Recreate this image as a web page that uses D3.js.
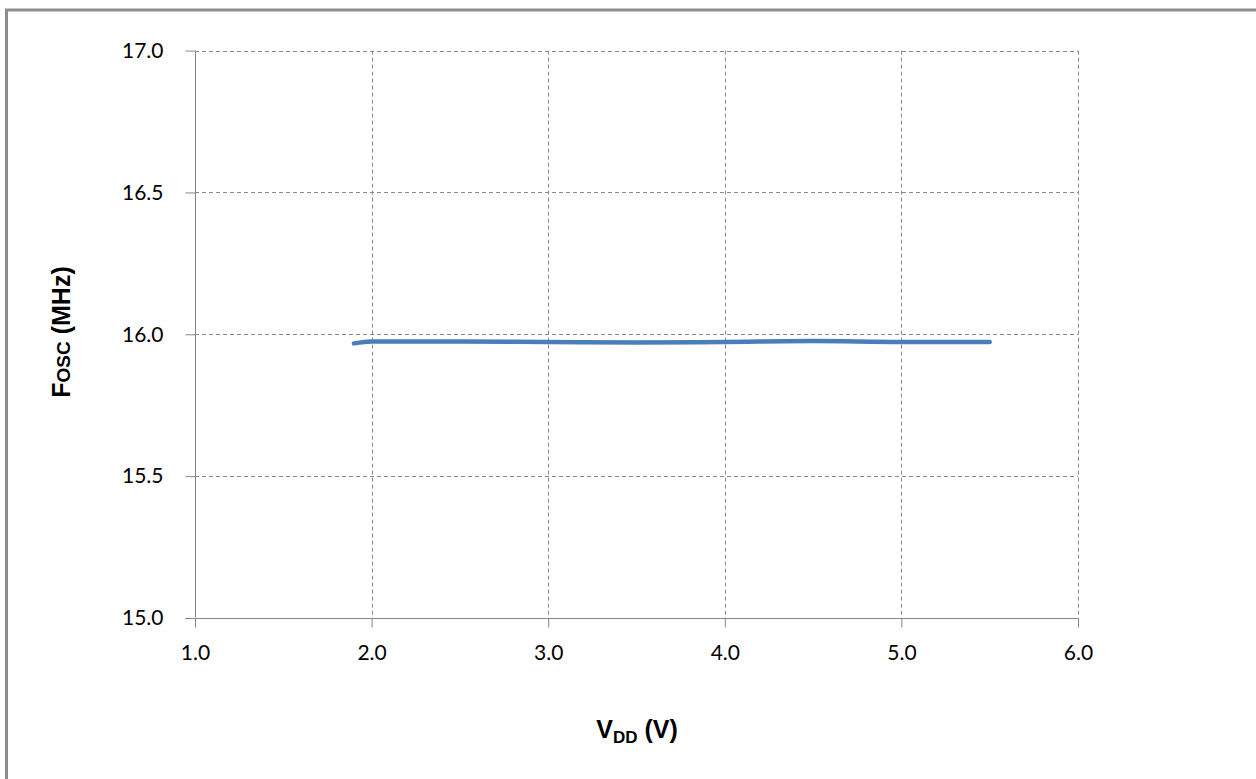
<!DOCTYPE html>
<html>
<head>
<meta charset="utf-8">
<script src="https://cdn.jsdelivr.net/npm/d3@7"></script>
<style>
  html, body { margin: 0; padding: 0; background: #fff; }
  svg { display: block; }
</style>
</head>
<body>
<svg id="chart" width="1256" height="779"></svg>
<script>
// ---- data ----
const vdd  = [1.9, 2.0, 2.5, 3.0, 3.5, 4.0, 4.5, 5.0, 5.5];
const fosc = [15.968, 15.975, 15.975, 15.973, 15.971, 15.973, 15.976, 15.973, 15.973];
const xTicks = [1.0, 2.0, 3.0, 4.0, 5.0, 6.0];
const yTicks = [15.0, 15.5, 16.0, 16.5, 17.0];

(function () {
const svg = d3.select("#chart");
const pLeft = 195, pRight = 1078, pTop = 50.6, pBottom = 618;

const x = d3.scaleLinear().domain([1, 6]).range([pLeft, pRight]);
const y = d3.scaleLinear().domain([15, 17]).range([pBottom, pTop]);

// outer border (only left and top visible; rest clipped)
svg.append("rect")
  .attr("x", 6.5).attr("y", 10)
  .attr("width", 1300).attr("height", 900)
  .attr("fill", "none").attr("stroke", "#8c8c8c").attr("stroke-width", 3);

// gridlines
const grid = svg.append("g");
grid.selectAll("line.h").data(yTicks.filter(d => d !== 15)).enter().append("line")
  .attr("x1", pLeft).attr("x2", pRight)
  .attr("y1", d => Math.round(y(d)) + 0.5).attr("y2", d => Math.round(y(d)) + 0.5)
  .attr("stroke", "#8a8a8a").attr("stroke-width", 1).attr("stroke-dasharray", "4,3");
grid.selectAll("line.v").data(xTicks.filter(d => d !== 1)).enter().append("line")
  .attr("y1", pTop).attr("y2", pBottom)
  .attr("x1", d => Math.round(x(d)) + 0.5).attr("x2", d => Math.round(x(d)) + 0.5)
  .attr("stroke", "#8a8a8a").attr("stroke-width", 1).attr("stroke-dasharray", "4,3");

// axes
const fontFam = "Lato, 'Open Sans', 'Liberation Sans', sans-serif";
const yAxis = svg.append("g").attr("transform", `translate(${Math.round(pLeft) + 0.5},0)`)
  .call(d3.axisLeft(y).tickValues(yTicks).tickFormat(d3.format(".1f")).tickSize(10).tickPadding(22));
const xAxis = svg.append("g").attr("transform", `translate(0,${Math.round(pBottom) + 0.5})`)
  .call(d3.axisBottom(x).tickValues(xTicks).tickFormat(d3.format(".1f")).tickSize(9).tickPadding(18));
[yAxis, xAxis].forEach(a => {
  a.select(".domain").attr("stroke", "#868686").attr("stroke-width", 1);
  a.selectAll(".tick line").attr("stroke", "#868686");
  a.selectAll(".tick text").attr("fill", "#000").style("font-family", fontFam).style("font-size", "21px");
});
xAxis.select(".domain").attr("d", `M${pLeft - 10},0H${pRight}`);
yAxis.select(".domain").attr("d", `M0,${pTop}V${pBottom - 0.5}`);

// line
const line = d3.line().x((d, i) => x(vdd[i])).y(d => y(d)).curve(d3.curveMonotoneX);
svg.append("path").datum(fosc)
  .attr("d", line)
  .attr("fill", "none").attr("stroke", "#4a7ebb").attr("stroke-width", 4.5)
  .attr("stroke-linecap", "round").attr("stroke-linejoin", "round");

// axis titles
const ty = svg.append("text")
  .attr("transform", `translate(70,332) rotate(-90)`)
  .attr("text-anchor", "middle")
  .style("font-family", "'Liberation Sans', Arial, sans-serif")
  .style("font-weight", "bold").style("font-size", "25px");
ty.append("tspan").text("F");
ty.append("tspan").style("font-size", "19px").text("OSC");
ty.append("tspan").text(" (MHz)");

const tx = svg.append("text")
  .attr("x", 637).attr("y", 738)
  .attr("text-anchor", "middle")
  .style("font-family", "'Liberation Sans', Arial, sans-serif")
  .style("font-weight", "bold").style("font-size", "25px");
tx.append("tspan").text("V");
tx.append("tspan").attr("dy", 5).style("font-size", "17px").text("DD");
tx.append("tspan").attr("dy", -5).text(" (V)");
})();
</script>
</body>
</html>
